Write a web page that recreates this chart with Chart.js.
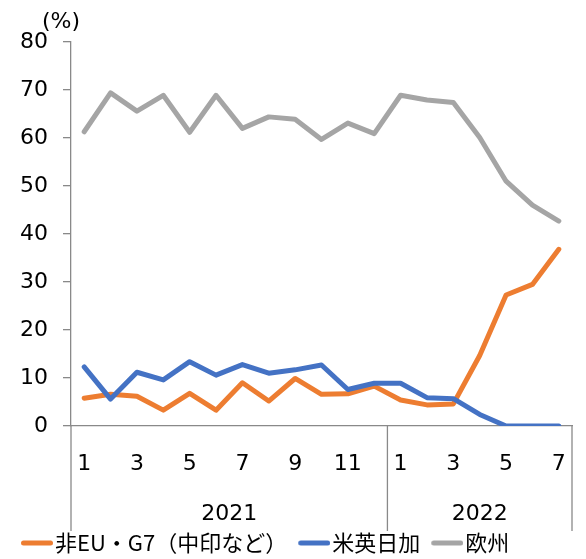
<!DOCTYPE html>
<html>
<head>
<meta charset="utf-8">
<script src="https://cdn.jsdelivr.net/npm/chart.js@4.4.0/dist/chart.umd.min.js"></script>
<style>
  body { margin: 0; background: #fff; }
  #wrap { width: 586px; height: 559px; }
</style>
</head>
<body>
<div id="wrap"><canvas id="chart"></canvas></div>
<script>
var months = ['1','2','3','4','5','6','7','8','9','10','11','12','1','2','3','4','5','6','7'];
var years = ['2021', '2022'];
var yearStart = [0, 12];

var nonG7 = [5.8, 6.6, 6.2, 3.3, 6.8, 3.3, 9.0, 5.2, 9.9, 6.6, 6.7, 8.3, 5.4, 4.4, 4.6, 14.7, 27.3, 29.5, 36.8];
var usUkJpCa = [12.3, 5.6, 11.2, 9.6, 13.4, 10.6, 12.8, 11.0, 11.7, 12.7, 7.6, 8.9, 8.9, 5.9, 5.7, 2.4, 0, 0, 0];
var europe = [61.3, 69.4, 65.6, 68.9, 61.2, 68.9, 62.0, 64.4, 63.9, 59.7, 63.1, 60.9, 68.9, 67.9, 67.4, 60.1, 51.0, 46.0, 42.7];

var axisGray = '#898989';
var numFont = 'DejaVu Sans';
var jpFont = "'Noto Sans CJK JP', 'DejaVu Sans'";

// legend swatch: a short thick line sitting close to its text
function lineIcon(color) {
    var c = document.createElement('canvas');
    c.width = 42;
    c.height = 8;
    var g = c.getContext('2d');
    g.strokeStyle = color;
    g.lineWidth = 5;
    g.lineCap = 'round';
    g.beginPath();
    g.moveTo(12.5, 4);
    g.lineTo(39.5, 4);
    g.stroke();
    return c;
}

// year groups, separators and the (%) unit
var groupAxis = {
    id: 'groupAxis',
    afterDraw: function(chart) {
        var ctx = chart.ctx;
        var x = chart.scales.x;
        var area = chart.chartArea;
        var bottom = area.bottom + 105;
        var half = (x.getPixelForValue(1) - x.getPixelForValue(0)) / 2;
        var seps = [area.left];
        for (var i = 1; i < yearStart.length; i++) {
            seps.push(x.getPixelForValue(yearStart[i]) - half);
        }
        seps.push(area.right);

        ctx.save();
        ctx.strokeStyle = axisGray;
        ctx.lineWidth = 1.3;
        seps.forEach(function(sx) {
            ctx.beginPath();
            ctx.moveTo(sx, area.bottom);
            ctx.lineTo(sx, bottom);
            ctx.stroke();
        });

        ctx.fillStyle = '#000';
        ctx.font = '22px ' + numFont;
        ctx.textAlign = 'center';
        ctx.textBaseline = 'middle';
        for (var j = 0; j < years.length; j++) {
            ctx.fillText(years[j], (seps[j] + seps[j + 1]) / 2, area.bottom + 88);
        }

        ctx.font = '22px ' + numFont;
        ctx.textAlign = 'left';
        ctx.fillText('(%)', 42, 22);
        ctx.restore();
    }
};

new Chart(document.getElementById('chart').getContext('2d'), {
    type: 'line',
    data: {
        labels: months,
        datasets: [{
            label: '非EU・G7（中印など）',
            data: nonG7,
            borderColor: '#ED7D31',
            backgroundColor: '#ED7D31',
            borderWidth: 5,
            pointStyle: lineIcon('#ED7D31'),
            order: 3
        }, {
            label: '米英日加',
            data: usUkJpCa,
            borderColor: '#4472C4',
            backgroundColor: '#4472C4',
            borderWidth: 5,
            pointStyle: lineIcon('#4472C4'),
            order: 2
        }, {
            label: '欧州',
            data: europe,
            borderColor: '#A5A5A5',
            backgroundColor: '#A5A5A5',
            borderWidth: 5,
            pointStyle: lineIcon('#A5A5A5'),
            order: 1
        }]
    },
    options: {
        responsive: true,
        maintainAspectRatio: false,
        animation: false,
        layout: { padding: { top: 42, right: 14, left: 10, bottom: -5 } },
        elements: {
            line: { tension: 0, borderCapStyle: 'round', borderJoinStyle: 'round' },
            point: { radius: 0, hoverRadius: 0 }
        },
        plugins: {
            tooltip: { enabled: false },
            legend: {
                position: 'bottom',
                align: 'start',
                labels: {
                    usePointStyle: true,
                    pointStyleWidth: 24,
                    padding: 10,
                    color: '#000',
                    font: { family: jpFont, size: 22, lineHeight: 1 },
                    sort: function(a, b) { return a.datasetIndex - b.datasetIndex; }
                }
            }
        },
        scales: {
            x: {
                offset: true,
                grid: { display: false, drawTicks: false },
                border: { display: true, color: axisGray, width: 1.3 },
                ticks: {
                    autoSkip: false,
                    maxRotation: 0,
                    padding: 25,
                    color: '#000',
                    font: { family: numFont, size: 22 },
                    callback: function(val, i) {
                        return i % 2 === 0 ? this.getLabelForValue(val) : '';
                    }
                },
                afterFit: function(scale) {
                    scale.height = 96;
                    scale.paddingLeft = 0;
                    scale.paddingRight = 0;
                }
            },
            y: {
                min: 0,
                max: 80,
                grid: { drawOnChartArea: false, drawTicks: true, tickLength: 8, color: axisGray, lineWidth: 1.3 },
                border: { display: true, color: axisGray, width: 1.3 },
                ticks: {
                    stepSize: 10,
                    padding: 15,
                    color: '#000',
                    font: { family: numFont, size: 22 }
                },
                afterFit: function(scale) { scale.width = 61; }
            }
        }
    },
    plugins: [groupAxis]
});
</script>
</body>
</html>
